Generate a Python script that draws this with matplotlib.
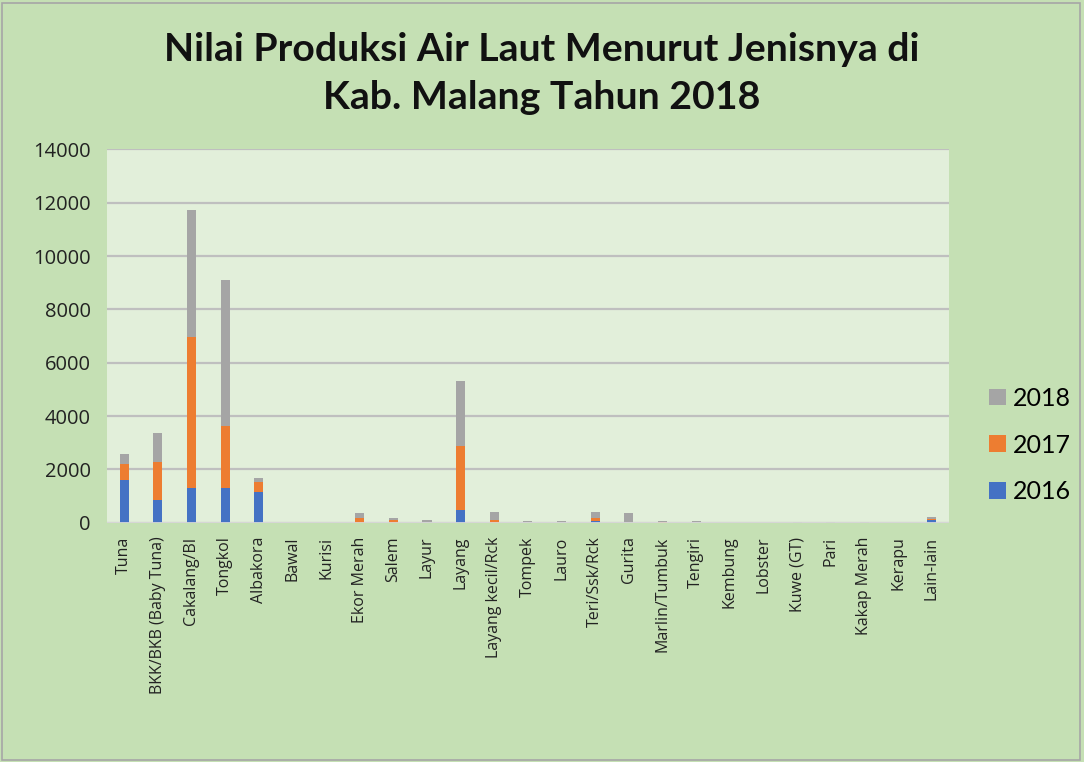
import numpy as np
import matplotlib.pyplot as plt
from matplotlib.patches import Rectangle

jenis = ["Tuna", "BKK/BKB (Baby Tuna)", "Cakalang/BI", "Tongkol", "Albakora",
         "Bawal", "Kurisi", "Ekor Merah", "Salem", "Layur", "Layang",
         "Layang kecil/Rck", "Tompek", "Lauro", "Teri/Ssk/Rck", "Gurita",
         "Marlin/Tumbuk", "Tengiri", "Kembung", "Lobster", "Kuwe (GT)", "Pari",
         "Kakap Merah", "Kerapu", "Lain-lain"]
th2016 = [1590, 860, 1290, 1310, 1135, 0, 0, 0, 0, 0, 460,
          0, 0, 0, 50, 0, 0, 0, 0, 0, 0, 0, 0, 0, 110]
th2017 = [600, 1425, 5680, 2300, 375, 0, 0, 160, 90, 0, 2435,
          86, 0, 0, 140, 0, 20, 0, 0, 0, 0, 0, 0, 0, 20]
th2018 = [370, 1085, 4750, 5500, 165, 0, 0, 190, 70, 110, 2420,
          325, 75, 70, 215, 375, 50, 80, 0, 0, 20, 30, 40, 0, 80]

warna = {"2016": "#4472c4", "2017": "#ed7d31", "2018": "#a5a5a5"}

fig = plt.figure(figsize=(10.84, 7.62), dpi=100, facecolor="#c5e0b4")
fig.patches.append(Rectangle((0.002, 0.002), 0.994, 0.994, transform=fig.transFigure,
                             fill=False, edgecolor="#a6a6a6", lw=1.2))
ax = fig.add_axes([0.099, 0.314, 0.776, 0.490])
ax.set_facecolor("#e2efda")

x = np.arange(len(jenis))
w = 0.27
a = np.array(th2016)
b = np.array(th2017)
c = np.array(th2018)
b1 = ax.bar(x, a, w, color=warna["2016"], label="2016", zorder=3)
b2 = ax.bar(x, b, w, bottom=a, color=warna["2017"], label="2017", zorder=3)
b3 = ax.bar(x, c, w, bottom=a + b, color=warna["2018"], label="2018", zorder=3)

ax.set_ylim(0, 14000)
ax.set_yticks(range(0, 14001, 2000))
ax.set_xlim(-0.5, len(jenis) - 0.5)
ax.grid(axis="y", color="#bfbfbf", lw=1.6, zorder=0)
ax.set_xticks(x)
ax.set_xticklabels(jenis, rotation=90, fontsize=11.5, family="Open Sans")
for lbl in ax.get_yticklabels():
    lbl.set_fontsize(14.5)
    lbl.set_family("Open Sans")
ax.tick_params(length=0, colors="#222222")
ax.tick_params(axis="y", pad=12)
ax.tick_params(axis="x", pad=10)
for s in ax.spines.values():
    s.set_visible(False)
ax.axhline(0, color="#d9d9d9", lw=2, zorder=4)

fig.text(0.5, 0.903, "Nilai Produksi Air Laut Menurut Jenisnya di\nKab. Malang Tahun 2018",
         ha="center", va="center", fontsize=28.3, fontweight="bold",
         family="Lato", linespacing=1.45, color="#111111")

leg = fig.legend([b3, b2, b1], ["2018", "2017", "2016"], loc="center left",
                 bbox_to_anchor=(0.892, 0.416), frameon=False,
                 prop={"family": "Lato", "size": 18},
                 handlelength=0.65, handleheight=0.65, handletextpad=0.3,
                 labelspacing=0.95)

fig.savefig("out.png", dpi=100, facecolor=fig.get_facecolor())
